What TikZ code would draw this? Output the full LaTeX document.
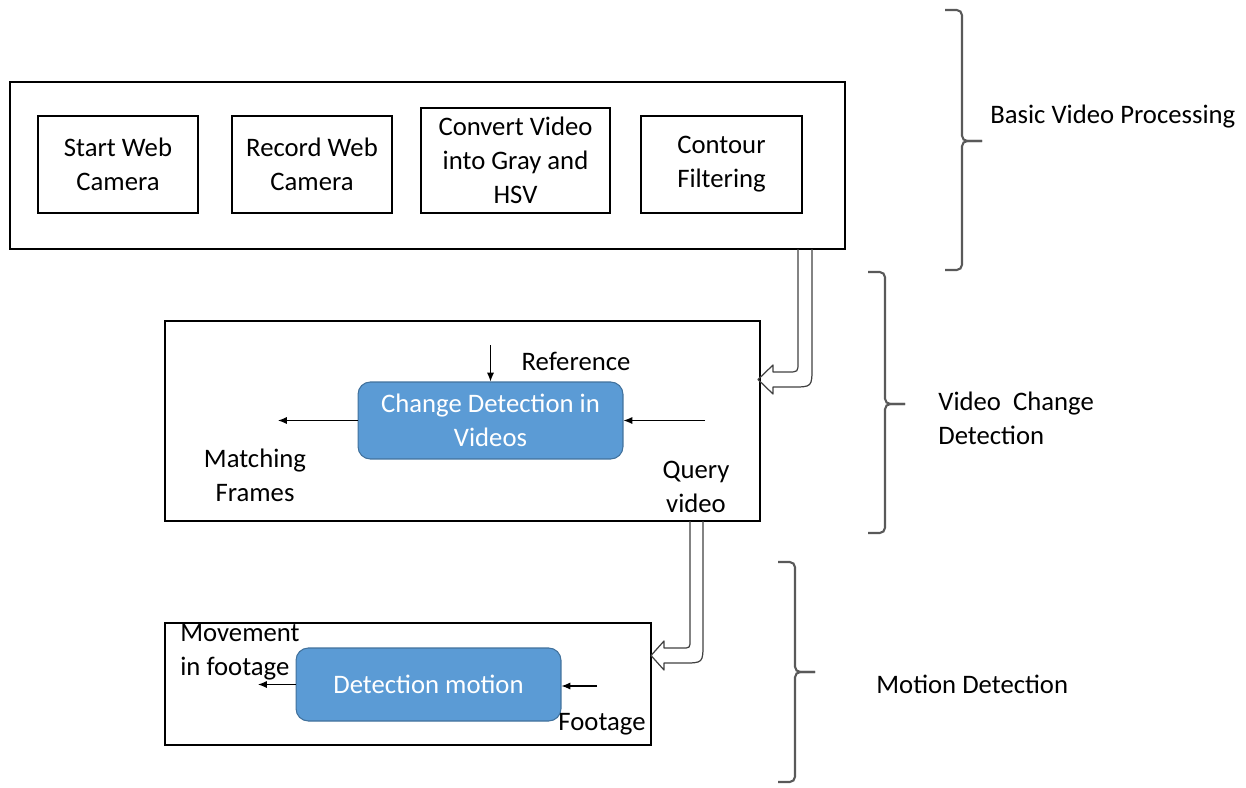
\documentclass[tikz,border=0pt]{standalone}
\usepackage{fontspec}
\setmainfont{Carlito}
\usetikzlibrary{arrows.meta}
\definecolor{boxblue}{HTML}{5B9BD5}
\definecolor{boxedge}{HTML}{41719C}
\definecolor{bracegray}{HTML}{595959}

\begin{document}
\begin{tikzpicture}[x=0.02cm,y=-0.02cm,
font=\fontsize{15.2pt}{19.3pt}\selectfont,
stage/.style={draw,rectangle,line width=0.8pt,inner sep=0pt},
stepbox/.style={draw,rectangle,line width=0.8pt,align=center,inner sep=2pt},
procblock/.style={draw=boxedge,fill=boxblue,rounded corners=7pt,text=white,align=center,line width=0.6pt,inner sep=2pt},
lbl/.style={align=center,inner sep=0pt},
sidelbl/.style={align=left,anchor=west,inner sep=0pt},
bracket/.style={draw=bracegray,line width=1.2pt,rounded corners=3pt},
hollow/.style={draw=black!75,line width=0.7pt,line join=round},
sig/.style={-{Latex[length=5pt,width=4pt]},line width=0.6pt}]

\useasboundingbox (0,0) rectangle (1246,787);

\draw (427.5,165.5) node[stage,minimum width=16.7cm,minimum height=3.34cm] (basic) {};
\draw (118,164.5) node[stepbox,minimum width=3.2cm,minimum height=1.94cm] (start) {Start Web\\Camera};
\draw (312,164.5) node[stepbox,minimum width=3.2cm,minimum height=1.94cm] (record) {Record Web\\Camera};
\draw (515.5,160.5) node[stepbox,minimum width=3.78cm,minimum height=2.1cm] (convert) {Convert Video\\into Gray and\\HSV};
\draw (721.5,164.5) node[stepbox,minimum width=3.22cm,minimum height=1.94cm] (contour) {Contour\\Filtering};

\draw (462.5,421) node[stage,minimum width=11.9cm,minimum height=4cm] (vcd) {};
\draw (490.5,420.5) node[procblock,minimum width=5.3cm,minimum height=1.54cm] (change) {Change Detection in\\Videos};

\draw (408,684) node[stage,minimum width=9.72cm,minimum height=2.44cm] (motion) {};
\draw (428.5,684.5) node[procblock,minimum width=5.3cm,minimum height=1.46cm] (detect) {Detection motion};

\draw (576,361) node[lbl] (reflbl) {Reference};
\draw (696,487) node[lbl] (querylbl) {Query\\video};
\draw (255,475) node[lbl] (matchlbl) {Matching\\Frames};
\draw (180,652) node[sidelbl] (movelbl) {Movement\\in footage};
\draw (602,724) node[lbl] (footlbl) {Footage};

\coordinate (refin) at (490.5,345);
\coordinate (queryin) at (705,420.5);
\coordinate (matchout) at (278,420.5);
\coordinate (footin) at (597,686);
\coordinate (moveout) at (258,684.5);

\draw[sig] (refin) -- (change.north);
\draw[sig] (queryin) -- (change.east);
\draw[sig] (change.west) -- (matchout);
\draw[sig] (footin) -- (detect.east |- footin);
\draw[sig] (detect.west) -- (moveout);

\draw[hollow] (798,249) -- (798,362) .. controls (798,372) .. (788,372) -- (773,372) -- (773,365) -- (758,379.5) -- (773,394) -- (773,387) -- (792,387) .. controls (812,387) .. (812,367) -- (812,249);
\draw[hollow] (690,521) -- (690,640) .. controls (690,648) .. (682,648) -- (664,648) -- (664,641) -- (651,655.5) -- (664,670) -- (664,663) -- (683,663) .. controls (703,663) .. (703,643) -- (703,521);

\draw[bracket] (945,10) -| (962,141) -- (982,141);
\draw[bracket] (982,141) -- (962,141) |- (945,270);
\draw[bracket] (868,272) -| (885,404) -- (905,404);
\draw[bracket] (905,404) -- (885,404) |- (868,533);
\draw[bracket] (778,562) -| (795,672) -- (815,672);
\draw[bracket] (815,672) -- (795,672) |- (778,782);

\draw (990,117) node[sidelbl] (basiclbl) {Basic Video Processing};
\draw (938,418) node[sidelbl] (vcdlbl) {Video\ \ Change\\Detection};
\draw (876,684) node[sidelbl] (motionlbl) {Motion Detection};

\end{tikzpicture}
\end{document}
